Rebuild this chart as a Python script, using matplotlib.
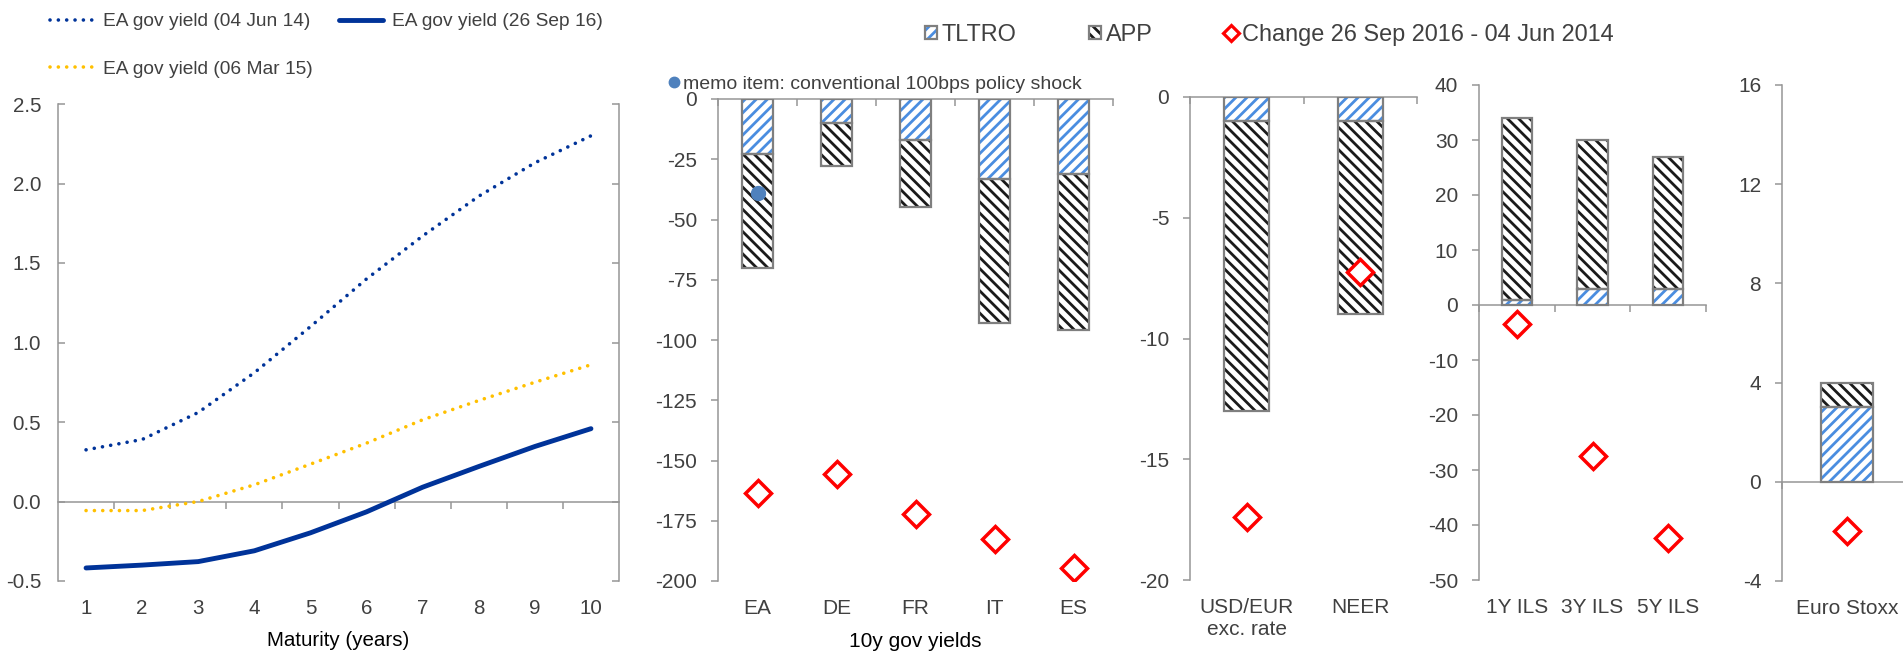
import matplotlib
matplotlib.use('Agg')
import matplotlib.pyplot as plt
from matplotlib import font_manager
from matplotlib.lines import Line2D
import numpy as np

#----------------------
# Dados
#----------------------

maturity = [1, 2, 3, 4, 5, 6, 7, 8, 9, 10]
yield_jun14 = [0.325, 0.39, 0.56, 0.81, 1.10, 1.40, 1.67, 1.92, 2.13, 2.30]
yield_mar15 = [-0.057, -0.057, 0.0, 0.105, 0.235, 0.367, 0.514, 0.635, 0.75, 0.86]
yield_sep16 = [-0.418, -0.40, -0.378, -0.31, -0.197, -0.065, 0.09, 0.22, 0.346, 0.458]

gov_labels = ['EA', 'DE', 'FR', 'IT', 'ES']
gov_tltro = [-23, -10, -17, -33, -31]
gov_app = [-47, -18, -28, -60, -65]
gov_change = [-163.5, -155.4, -172.2, -182.6, -194.7]
memo_shock = [-39]          # so para EA

fx_labels = ['USD/EUR\nexc. rate', 'NEER']
fx_tltro = [-1, -1]
fx_app = [-12, -8]
fx_change = [-17.4, -7.25]

ils_labels = ['1Y ILS', '3Y ILS', '5Y ILS']
ils_tltro = [1, 3, 3]
ils_app = [33, 27, 24]
ils_change = [-3.5, -27.4, -42.4]

stoxx_labels = ['Euro Stoxx']
stoxx_tltro = [3]
stoxx_app = [1]
stoxx_change = [-2.0]

#----------------------
# Estilo
#----------------------

W, H = 1903, 657
NAVY = '#003399'
YELLOW = '#FFC000'
BLUE = '#4A8DE0'
DARK = '#1A1A1A'
EDGE = '#7F7F7F'
AXC = '#969696'
RED = '#FF0000'
TXT = '#404040'

names = {f.name for f in font_manager.fontManager.ttflist}
if 'Liberation Sans Narrow' in names:
    NARROW, nk = 'Liberation Sans Narrow', 1.0
else:
    NARROW, nk = 'Liberation Sans', 0.92

plt.rcParams['font.family'] = ['Liberation Sans', 'DejaVu Sans']
plt.rcParams['axes.unicode_minus'] = False
plt.rcParams['text.color'] = TXT
plt.rcParams['xtick.color'] = AXC
plt.rcParams['ytick.color'] = AXC
plt.rcParams['xtick.labelcolor'] = TXT
plt.rcParams['ytick.labelcolor'] = TXT
plt.rcParams['hatch.linewidth'] = 2.0


def pos(l, t, r, b):
    return [l / W, 1 - b / H, (r - l) / W, (b - t) / H]


def zero_axis(ax, frac, ticks):
    # linha do zero com marcas entre categorias (estilo Excel)
    z = ax.secondary_xaxis(frac)
    z.set_alignment('bottom')
    z.set_xticks(ticks, labels=[''] * len(ticks))
    z.tick_params(length=5, width=1.1, labelbottom=False, labeltop=False)
    z.spines['bottom'].set_color(AXC)
    z.spines['bottom'].set_linewidth(1.1)
    return z


fig = plt.figure(figsize=(W / 100, H / 100), dpi=100)

#----------------------
# Painel 1: curvas de juros
#----------------------

ax1 = fig.add_axes(pos(58, 104, 619, 581))
dots = (0, (0.01, 2.3))
l_jun14, = ax1.plot(maturity, yield_jun14, color=NAVY, lw=2.6, ls=dots, dash_capstyle='round')
l_sep16, = ax1.plot(maturity, yield_sep16, color=NAVY, lw=3.5, solid_capstyle='round')
l_mar15, = ax1.plot(maturity, yield_mar15, color=YELLOW, lw=2.6, ls=dots, dash_capstyle='round')

ymin, ymax = -0.5, 2.5
ax1.set_xlim(0.5, 10.5)
ax1.set_ylim(ymin, ymax)
ax1.set_yticks(np.arange(-0.5, 2.51, 0.5))
ax1.yaxis.set_major_formatter('{x:.1f}')
ax1.set_xticks(maturity)
for s in ['top', 'bottom']:
    ax1.spines[s].set_visible(False)
for s in ['left', 'right']:
    ax1.spines[s].set_color(AXC)
    ax1.spines[s].set_linewidth(1.1)
ax1.tick_params(axis='y', direction='in', left=True, right=True, length=5, width=1.1,
                pad=12, labelsize=16 * nk, labelfontfamily=NARROW)
ax1.tick_params(axis='x', length=0, pad=13, labelsize=16 * nk, labelfontfamily=NARROW)
ax1.set_xlabel('Maturity (years)', fontsize=16 * nk, family=NARROW, labelpad=9)
zero_axis(ax1, (0 - ymin) / (ymax - ymin), np.arange(1.5, 10, 1.0))

fig.legend([l_jun14, l_mar15, l_sep16],
           ['EA gov yield (04 Jun 14)', 'EA gov yield (06 Mar 15)', 'EA gov yield (26 Sep 16)'],
           ncol=2, loc='upper left', bbox_to_anchor=(50 / W, 1 - 13 / H), frameon=False,
           prop=dict(family=NARROW, size=15 * nk), handlelength=2.3, handletextpad=0.45,
           columnspacing=1.4, labelspacing=1.55, borderpad=0, borderaxespad=0)

#----------------------
# Paineis de barras
#----------------------


def bar_panel(ax, labels, tltro, app, change, lims, step):
    x = np.arange(len(labels))
    handles = []
    for vals, base, col, hatch in ((tltro, 0, BLUE, '///'), (app, tltro, DARK, '\\\\\\')):
        hb = ax.bar(x, vals, 0.4, bottom=base, color='white', edgecolor=col, hatch=hatch,
                    linewidth=0, zorder=2)
        eb = ax.bar(x, vals, 0.4, bottom=base, fill=False, edgecolor=EDGE, linewidth=1.6,
                    zorder=3)
        handles.append((hb[0], eb[0]))
    dm, = ax.plot(x, change, ls='none', marker='D', ms=13, mfc='white', mec=RED,
                  mew=2.5, zorder=5)
    handles.append(dm)

    ax.set_xlim(-0.5, len(labels) - 0.5)
    ax.set_ylim(*lims)
    ax.set_yticks(np.arange(lims[0], lims[1] + step / 2, step))
    ax.set_xticks(x, labels)
    for s in ['top', 'right', 'bottom']:
        ax.spines[s].set_visible(False)
    ax.spines['left'].set_color(AXC)
    ax.spines['left'].set_linewidth(1.1)
    ax.tick_params(axis='y', direction='out', length=5, width=1.1, pad=10, labelsize=15)
    ax.tick_params(axis='x', length=0, pad=13, labelsize=15)
    zero_axis(ax, (0 - lims[0]) / (lims[1] - lims[0]), np.arange(len(labels) + 1) - 0.5)
    return handles


ax2 = fig.add_axes(pos(718, 99, 1113, 581))
handles = bar_panel(ax2, gov_labels, gov_tltro, gov_app, gov_change, (-200, 0), 25)
memo, = ax2.plot([0], memo_shock, ls='none', marker='o', ms=10, color='#4F81BD', zorder=6)
ax2.set_xlabel('10y gov yields', fontsize=15, labelpad=10)

ax3 = fig.add_axes(pos(1190, 97, 1417, 580))
bar_panel(ax3, fx_labels, fx_tltro, fx_app, fx_change, (-20, 0), 5)

ax4 = fig.add_axes(pos(1479, 85, 1706, 580))
bar_panel(ax4, ils_labels, ils_tltro, ils_app, ils_change, (-50, 40), 10)

ax5 = fig.add_axes(pos(1782, 85, 1912, 581))
bar_panel(ax5, stoxx_labels, stoxx_tltro, stoxx_app, stoxx_change, (-4, 16), 4)

#----------------------
# Legendas
#----------------------

fig.legend([memo], ['memo item: conventional 100bps policy shock'],
           loc='center left', bbox_to_anchor=(668 / W, 1 - 84 / H), frameon=False,
           prop=dict(size=14), handlelength=0.6, handletextpad=0.15, markerscale=0.75,
           borderpad=0, borderaxespad=0)

diam = Line2D([], [], ls='none', marker='D', ms=8, mfc='white', mec=RED, mew=2.3)
fig.legend([handles[0], handles[1], diam],
           ['TLTRO', 'APP', 'Change 26 Sep 2016 - 04 Jun 2014'],
           ncol=3, loc='center left', bbox_to_anchor=(925 / W, 1 - 35 / H), frameon=False,
           prop=dict(family=NARROW, size=18.4 * nk), handlelength=0.5, handleheight=0.5,
           handletextpad=0.2, columnspacing=3.1, borderpad=0, borderaxespad=0)

fig.savefig('out.png', dpi=100)
